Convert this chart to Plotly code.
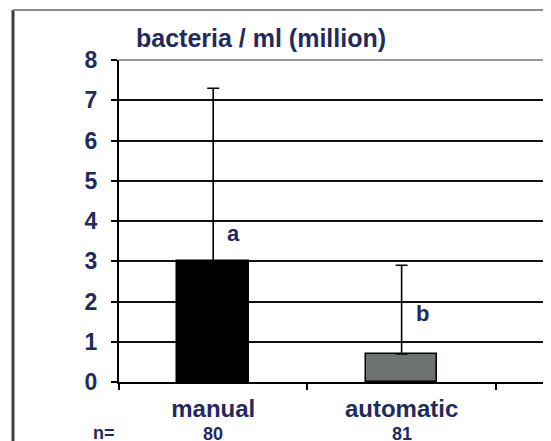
import plotly.graph_objects as go

categories = ["manual", "automatic"]
means = [3.0, 0.7]
err_plus = [4.3, 2.2]
n_counts = ["80", "81"]
letters = ["a", "b"]
bar_colors = ["#000000", "#6d7170"]
y_ticks = [0, 1, 2, 3, 4, 5, 6, 7, 8]

NAVY = "#1f2b5e"
FONT = "Liberation Sans, Arial, sans-serif"

xpos = list(range(len(categories)))

fig = go.Figure()
fig.add_trace(go.Bar(
    x=xpos, y=means, width=0.38,
    marker=dict(color=bar_colors, line=dict(color="black", width=1.5)),
    error_y=dict(type="data", symmetric=False, array=err_plus,
                 arrayminus=[0] * len(means), color="black",
                 thickness=1.6, width=6),
    showlegend=False,
))

annotations = []
annotations.append(dict(text="bacteria / ml (million)", xref="paper", yref="paper",
                        x=0.036, y=1.067, xanchor="left", yanchor="middle",
                        showarrow=False,
                        font=dict(family=FONT, size=25, color=NAVY, weight="bold")))
letter_offsets = [0.69, 0.99]
for i, (m, l) in enumerate(zip(means, letters)):
    annotations.append(dict(text=l, x=i + 0.11, y=m + letter_offsets[i], xref="x", yref="y",
                            showarrow=False, xanchor="center", yanchor="middle",
                            font=dict(family=FONT, size=22, color=NAVY, weight="bold")))
annotations.append(dict(text="n=", xref="paper", yref="paper", x=-0.036, y=-0.158,
                        xanchor="center", yanchor="middle", showarrow=False,
                        font=dict(family=FONT, size=18, color=NAVY, weight="bold")))
for i, n in enumerate(n_counts):
    annotations.append(dict(text=n, x=i, xref="x", yref="paper", y=-0.16 - 0.003 * i,
                            xanchor="center", yanchor="middle", showarrow=False,
                            font=dict(family=FONT, size=18, color=NAVY, weight="bold")))

shapes = [
    dict(type="line", xref="paper", yref="paper", x0=-0.2488, x1=-0.2488, y0=1.155, y1=-0.3,
         line=dict(color="#3a3d42", width=3)),
    dict(type="line", xref="paper", yref="paper", x0=-0.2488, x1=1.1, y0=1.155, y1=1.155,
         line=dict(color="#8a8a8a", width=2)),
    dict(type="line", xref="paper", yref="paper", x0=0, x1=1, y0=1, y1=1,
         line=dict(color="#999999", width=2), layer="below"),
    dict(type="line", xref="paper", yref="paper", x0=1, x1=1, y0=0, y1=0.093,
         line=dict(color="#b0b0b0", width=2)),
]

fig.update_layout(
    width=543, height=433,
    margin=dict(l=111, r=6, t=52, b=59),
    paper_bgcolor="white", plot_bgcolor="white",
    annotations=annotations, shapes=shapes,
    bargap=0,
)
fig.update_xaxes(
    range=[-0.5, 1.761], tickvals=xpos, ticktext=categories, ticks="",
    tickfont=dict(family=FONT, size=24, color=NAVY, weight="bold"),
    ticklabelstandoff=4,
    showline=True, linecolor="black", linewidth=2, showgrid=False, zeroline=False,
    minor=dict(tickvals=[-0.5, 0.5, 1.5], ticks="outside", ticklen=6,
               tickwidth=2, tickcolor="black", showgrid=False),
)
fig.update_yaxes(
    range=[0, 8], tickvals=y_ticks, ticks="outside", ticklen=6, tickwidth=2,
    tickcolor="black",
    tickfont=dict(family=FONT, size=23, color=NAVY, weight="bold"),
    ticklabelstandoff=9,
    showline=True, linecolor="black", linewidth=2,
    showgrid=True, gridcolor="#111111", gridwidth=2, zeroline=False,
)

fig.write_html("out.html")
